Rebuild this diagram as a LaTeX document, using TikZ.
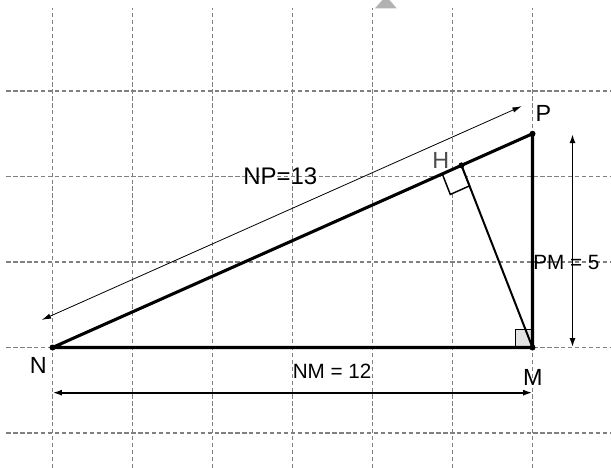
\documentclass[tikz,border=0pt]{standalone}
\usepackage{fontspec}
\setmainfont{Liberation Sans}
\usetikzlibrary{arrows.meta, calc}

\begin{document}
\begin{tikzpicture}[
  x=30pt, y=32.0625pt,
  every node/.style={font=\fontsize{15.5}{18}\selectfont, inner sep=0pt},
  grid/.style={draw=gray, line width=0.9pt, dash pattern=on 3.2pt off 2pt},
  side/.style={line width=2.3pt, line cap=round, line join=round},
  height/.style={line width=1.5pt},
  dim/.style={{Latex[length=7pt,width=4.5pt]}-{Latex[length=7pt,width=4.5pt]}, line width=1.4pt},
  thindim/.style={{Latex[length=7pt,width=4pt]}-{Latex[length=7pt,width=4pt]}, line width=0.6pt},
  rightangle/.style={draw, line width=1.1pt},
  dot/.style={circle, fill, inner sep=0pt, minimum size=4.5pt},
  lbl/.style={font=\fontsize{17.5}{20}\selectfont}
]
\useasboundingbox (-1.3125,-2.8187) rectangle (13.9625,8.1287);

% grid
\foreach \x in {0,2,...,12} \draw[grid] (\x,-2.82) -- (\x,7.94);
\foreach \y in {-2,0,...,6} \draw[grid] (-1.15,\y) -- (13.97,\y);

% marker cut by the top edge
\begin{scope}
  \clip (-1.3125,-2.8187) rectangle (13.9625,8.1287);
  \fill[gray!60] (8.0625,7.935) -- (8.605,7.935) -- (8.3375,8.222) -- cycle;
\end{scope}

% points
\coordinate (N) at (0,0);
\coordinate (M) at (12,0);
\coordinate (P) at (12,5);
\coordinate (H) at (10.2249,4.2604);

% right angles
\filldraw[rightangle, fill=gray!22] (M) rectangle ++(-0.42,0.42);
\filldraw[rightangle, fill=white] (H) -- ++(-0.48,-0.2) -- ++(0.2,-0.48) -- ++(0.48,0.2) -- cycle;

% triangle and height
\draw[side] (N) -- (M) -- (P) -- cycle;
\draw[height] (M) -- (H);

\node[dot] (dN) at (N) {};
\node[dot] (dM) at (M) {};
\node[dot] (dP) at (P) {};
\node[dot] (dH) at (H) {};

% dimension arrows
\coordinate (np1) at ($(N)+(-0.27,0.645)$);
\coordinate (np2) at ($(P)+(-0.27,0.645)$);
\coordinate (nm1) at (0,-1.057);
\coordinate (nm2) at (12,-1.057);
\coordinate (pm1) at (13,0);
\coordinate (pm2) at (13,5);
\draw[thindim] (np1) -- (np2);
\draw[dim] (nm1) -- (nm2);
\draw[dim] (pm1) -- (pm2);

% labels
\node[lbl] (lN) at (-0.355,-0.41) {N};
\node[lbl] (lM) at (12.01,-0.70) {M};
\node[lbl] (lP) at (12.27,5.478) {P};
\node[lbl, text=black!70] (lH) at (9.705,4.386) {H};
\node[font=\fontsize{18}{21}\selectfont] (lNP) at (5.695,4.006) {NP=13};
\node (lNM) at (6.99,-0.554) {NM = 12};
\node (lPM) at (12.845,2.0) {PM = 5};

\end{tikzpicture}
\end{document}
